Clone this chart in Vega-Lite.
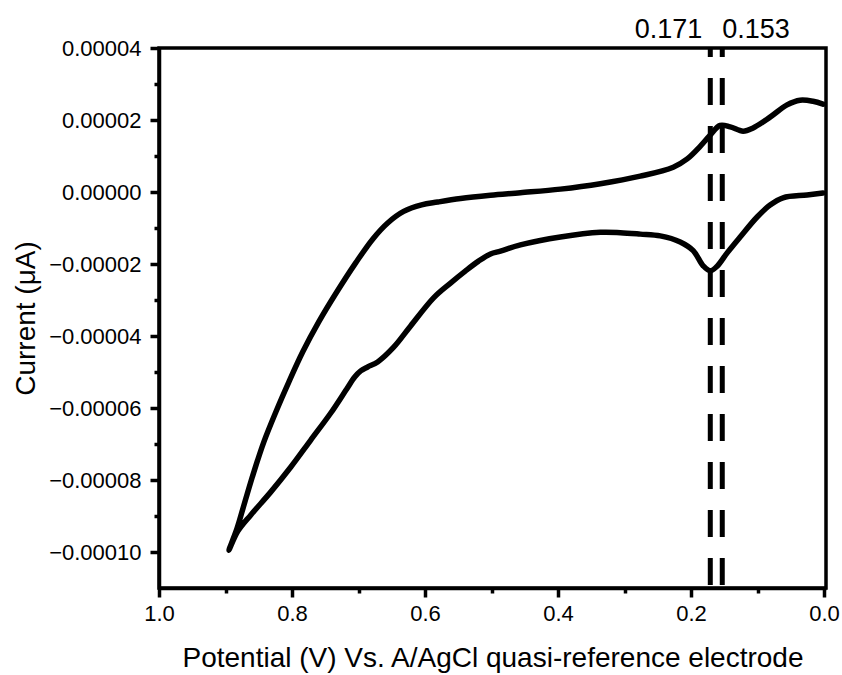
{
  "$schema": "https://vega.github.io/schema/vega-lite/v6.json",
  "width": 667,
  "height": 540,
  "autosize": {"type": "none"},
  "padding": {"left": 159, "top": 48, "right": 16, "bottom": 87},
  "background": "white",
  "datasets": {
    "cv": [
      {"i":1,"E":0.0015,"I":-2.8e-7},
      {"i":2,"E":0.0255,"I":-8.3e-7},
      {"i":3,"E":0.0616,"I":-1.6e-6},
      {"i":4,"E":0.0811,"I":-3.61e-6},
      {"i":5,"E":0.1006,"I":-6.94e-6},
      {"i":6,"E":0.1261,"I":-1.25e-5},
      {"i":7,"E":0.1456,"I":-1.69e-5},
      {"i":8,"E":0.1607,"I":-2.06e-5},
      {"i":9,"E":0.1712,"I":-2.19e-5},
      {"i":10,"E":0.1817,"I":-2.05e-5},
      {"i":11,"E":0.1967,"I":-1.63e-5},
      {"i":12,"E":0.2162,"I":-1.39e-5},
      {"i":13,"E":0.2462,"I":-1.22e-5},
      {"i":14,"E":0.2763,"I":-1.17e-5},
      {"i":15,"E":0.3063,"I":-1.13e-5},
      {"i":16,"E":0.3363,"I":-1.12e-5},
      {"i":17,"E":0.3964,"I":-1.25e-5},
      {"i":18,"E":0.4565,"I":-1.47e-5},
      {"i":19,"E":0.4865,"I":-1.64e-5},
      {"i":20,"E":0.5015,"I":-1.72e-5},
      {"i":21,"E":0.5195,"I":-1.92e-5},
      {"i":22,"E":0.539,"I":-2.19e-5},
      {"i":23,"E":0.5616,"I":-2.53e-5},
      {"i":24,"E":0.5871,"I":-2.94e-5},
      {"i":25,"E":0.6216,"I":-3.72e-5},
      {"i":26,"E":0.6471,"I":-4.31e-5},
      {"i":27,"E":0.6712,"I":-4.72e-5},
      {"i":28,"E":0.6862,"I":-4.86e-5},
      {"i":29,"E":0.6967,"I":-4.97e-5},
      {"i":30,"E":0.7057,"I":-5.14e-5},
      {"i":31,"E":0.7177,"I":-5.47e-5},
      {"i":32,"E":0.7417,"I":-6.14e-5},
      {"i":33,"E":0.7718,"I":-6.89e-5},
      {"i":34,"E":0.8018,"I":-7.64e-5},
      {"i":35,"E":0.8318,"I":-8.33e-5},
      {"i":36,"E":0.8619,"I":-8.97e-5},
      {"i":37,"E":0.8814,"I":-9.42e-5},
      {"i":38,"E":0.8949,"I":-9.95e-5},
      {"i":39,"E":0.8829,"I":-9.36e-5},
      {"i":40,"E":0.8709,"I":-8.61e-5},
      {"i":41,"E":0.8574,"I":-7.78e-5},
      {"i":42,"E":0.8423,"I":-6.94e-5},
      {"i":43,"E":0.8243,"I":-6.11e-5},
      {"i":44,"E":0.8048,"I":-5.28e-5},
      {"i":45,"E":0.7838,"I":-4.44e-5},
      {"i":46,"E":0.7598,"I":-3.61e-5},
      {"i":47,"E":0.7327,"I":-2.78e-5},
      {"i":48,"E":0.7042,"I":-1.97e-5},
      {"i":49,"E":0.6787,"I":-1.31e-5},
      {"i":50,"E":0.6561,"I":-8.6e-6},
      {"i":51,"E":0.6321,"I":-5.4e-6},
      {"i":52,"E":0.6051,"I":-3.6e-6},
      {"i":53,"E":0.5811,"I":-2.8e-6},
      {"i":54,"E":0.5465,"I":-1.8e-6},
      {"i":55,"E":0.5015,"I":-9.0e-7},
      {"i":56,"E":0.4565,"I":-2.0e-7},
      {"i":57,"E":0.3964,"I":8.0e-7},
      {"i":58,"E":0.3363,"I":2.3e-6},
      {"i":59,"E":0.2763,"I":4.4e-6},
      {"i":60,"E":0.2267,"I":6.9e-6},
      {"i":61,"E":0.2057,"I":9.2e-6},
      {"i":62,"E":0.1862,"I":1.27e-5},
      {"i":63,"E":0.1712,"I":1.58e-5},
      {"i":64,"E":0.1562,"I":1.85e-5},
      {"i":65,"E":0.1411,"I":1.81e-5},
      {"i":66,"E":0.1216,"I":1.69e-5},
      {"i":67,"E":0.1066,"I":1.78e-5},
      {"i":68,"E":0.0811,"I":2.08e-5},
      {"i":69,"E":0.0556,"I":2.42e-5},
      {"i":70,"E":0.036,"I":2.55e-5},
      {"i":71,"E":0.0165,"I":2.52e-5},
      {"i":72,"E":0.0015,"I":2.44e-5}
    ],
    "peaks": [
      {"E": 0.171, "label": "0.171"},
      {"E": 0.153, "label": "0.153"}
    ]
  },
  "layer": [
    {
      "data": {"name": "cv"},
      "mark": {"type": "line", "color": "black", "strokeWidth": 5.5, "interpolate": "catmull-rom", "strokeCap": "round", "strokeJoin": "round"},
      "encoding": {
        "x": {"field": "E", "type": "quantitative",
              "scale": {"domain": [1.0, -0.003], "nice": false, "zero": false},
              "axis": {"orient": "bottom", "values": [1.0, 0.8, 0.6, 0.4, 0.2, 0.0], "format": ".1f", "labelFlush": false,
                       "tickSize": 9, "labelPadding": 6, "titlePadding": 20,
                       "title": "Potential (V) Vs. A/AgCl quasi-reference electrode"}},
        "y": {"field": "I", "type": "quantitative",
              "scale": {"domain": [-0.00011, 0.00004], "nice": false, "zero": false},
              "axis": {"orient": "left", "values": [-0.0001, -0.00008, -0.00006, -0.00004, -0.00002, 0, 0.00002, 0.00004], "format": ".5f",
                       "tickSize": 9, "labelPadding": 9, "titlePadding": 8, "title": "Current (μA)"}},
        "order": {"field": "i", "type": "quantitative"}
      }
    },
    {
      "data": {"name": "cv"},
      "mark": {"type": "line", "opacity": 0},
      "encoding": {
        "x": {"field": "E", "type": "quantitative",
              "axis": {"orient": "bottom", "values": [0.9, 0.7, 0.5, 0.3, 0.1], "labels": false, "domain": false, "tickSize": 5, "title": null}},
        "y": {"field": "I", "type": "quantitative",
              "axis": {"orient": "left", "values": [-0.00009, -0.00007, -0.00005, -0.00003, -0.00001, 0.00001, 0.00003], "labels": false, "domain": false, "tickSize": 5, "title": null}},
        "order": {"field": "i", "type": "quantitative"}
      }
    },
    {
      "data": {"name": "peaks"},
      "mark": {"type": "rule", "color": "black", "strokeWidth": 5, "strokeDash": [27, 21], "strokeDashOffset": 18},
      "encoding": {
        "x": {"field": "E", "type": "quantitative", "axis": null}
      }
    },
    {
      "data": {"name": "peaks"},
      "transform": [{"filter": "datum.label == '0.171'"}],
      "mark": {"type": "text", "align": "right", "baseline": "alphabetic", "dx": -8, "dy": -10, "font": "Liberation Sans", "fontSize": 27, "color": "black"},
      "encoding": {
        "x": {"field": "E", "type": "quantitative", "axis": null},
        "y": {"datum": 0.00004, "type": "quantitative", "axis": null},
        "text": {"field": "label"}
      }
    },
    {
      "data": {"name": "peaks"},
      "transform": [{"filter": "datum.label == '0.153'"}],
      "mark": {"type": "text", "align": "left", "baseline": "alphabetic", "dx": 0, "dy": -10, "font": "Liberation Sans", "fontSize": 27, "color": "black"},
      "encoding": {
        "x": {"field": "E", "type": "quantitative", "axis": null},
        "y": {"datum": 0.00004, "type": "quantitative", "axis": null},
        "text": {"field": "label"}
      }
    }
  ],
  "resolve": {"axis": {"x": "independent", "y": "independent"}},
  "config": {
    "view": {"stroke": "black", "strokeWidth": 3.5},
    "axis": {
      "grid": false,
      "domainColor": "black",
      "domainWidth": 3.5,
      "tickColor": "black",
      "tickWidth": 3.5,
      "labelFont": "Liberation Sans",
      "labelFontSize": 22,
      "labelColor": "black",
      "titleFont": "Liberation Sans",
      "titleFontSize": 28,
      "titleFontWeight": "normal",
      "titleColor": "black"
    }
  }
}
